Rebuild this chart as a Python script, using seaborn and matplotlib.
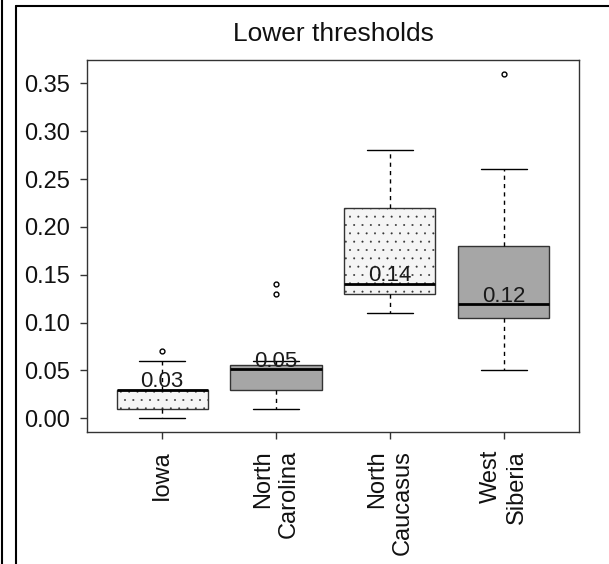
import matplotlib
matplotlib.use("Agg")
import matplotlib.pyplot as plt
from matplotlib.lines import Line2D
import seaborn as sns

# Box summaries
regions = ["Iowa", "North\nCarolina", "North\nCaucasus", "West\nSiberia"]
whisker_low = [0.00, 0.01, 0.11, 0.05]
q1 = [0.01, 0.03, 0.13, 0.105]
medians = [0.03, 0.051, 0.14, 0.119]
q3 = [0.03, 0.056, 0.22, 0.18]
whisker_high = [0.06, 0.06, 0.28, 0.26]
outliers = [[0.07], [0.13, 0.14], [], [0.36]]
median_labels = ["0.03", "0.05", "0.14", "0.12"]
y_ticks = [0.00, 0.05, 0.10, 0.15, 0.20, 0.25, 0.30, 0.35]

light_fill = "#f5f5f5"
dark_fill = "#a6a6a6"
box_fills = [light_fill, dark_fill, light_fill, dark_fill]
box_hatches = ["..", "", "..", ""]

sns.set_style("white")
plt.rcParams["font.family"] = ["Liberation Sans", "DejaVu Sans"]
plt.rcParams["hatch.linewidth"] = 0.2

fig = plt.figure(figsize=(6.09, 5.64), dpi=100)
ax = fig.add_axes([87 / 609, 1 - 432 / 564, (579 - 87) / 609, (432 - 60) / 564])

stats = []
for i in range(len(regions)):
    stats.append(dict(label=regions[i], whislo=whisker_low[i], q1=q1[i], med=medians[i],
                      q3=q3[i], whishi=whisker_high[i], fliers=outliers[i]))

parts = ax.bxp(
    stats, positions=range(len(regions)), widths=0.8, capwidths=0.4,
    patch_artist=True, showfliers=True,
    boxprops=dict(edgecolor="#333333", linewidth=1.0),
    medianprops=dict(color="black", linewidth=2.0, solid_capstyle="butt"),
    whiskerprops=dict(color="black", linewidth=1.0, linestyle=(0, (3, 3))),
    capprops=dict(color="black", linewidth=1.0),
    flierprops=dict(marker="o", markerfacecolor="none", markeredgecolor="black",
                    markersize=3.5, markeredgewidth=1.0),
)
for patch, fill, hatch in zip(parts["boxes"], box_fills, box_hatches):
    patch.set_facecolor(fill)
    patch.set_hatch(hatch)

# median values written just above each median line
for i, lbl in enumerate(median_labels):
    ax.annotate(lbl, (i, medians[i]), xytext=(0, 2), textcoords="offset points",
                ha="center", va="baseline", fontsize=16, color="#1a1a1a")

ax.set_xlim(-0.66, 3.66)
ax.set_ylim(-0.0144, 0.3744)
ax.set_yticks(y_ticks)
ax.set_yticklabels([f"{v:.2f}" for v in y_ticks])
ax.set_xticks(range(len(regions)))
ax.set_xticklabels(regions, rotation=90, ha="center", va="top", multialignment="right")
ax.tick_params(axis="both", length=5, width=1, color="#333333", labelsize=17,
               labelcolor="#111111", bottom=True, left=True)
ax.tick_params(axis="y", pad=7)
ax.tick_params(axis="x", pad=8)
for sp in ax.spines.values():
    sp.set_visible(True)
    sp.set_color("#333333")
    sp.set_linewidth(1.0)

fig.text(333 / 609, 1 - 41 / 564, "Lower thresholds", ha="center", va="baseline",
         fontsize=19, color="#111111")

# outer frame lines of the original panel
fig.add_artist(Line2D([2 / 609, 2 / 609], [0, 1], transform=fig.transFigure, color="black", lw=1.5))
fig.add_artist(Line2D([16 / 609, 16 / 609], [0, 1 - 6 / 564], transform=fig.transFigure, color="black", lw=1.5))
fig.add_artist(Line2D([16 / 609, 1], [1 - 6 / 564, 1 - 6 / 564], transform=fig.transFigure, color="black", lw=1.5))

fig.savefig("out.png", dpi=100)
